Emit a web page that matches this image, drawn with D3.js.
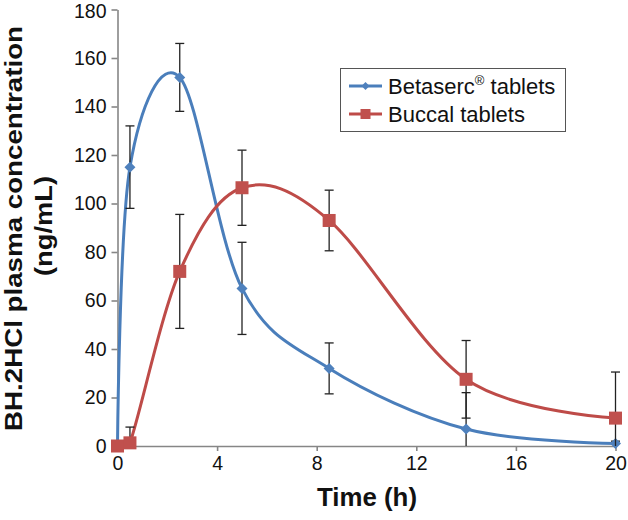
<!DOCTYPE html>
<html><head><meta charset="utf-8">
<script src="https://cdn.jsdelivr.net/npm/d3@7"></script>
<style>body{margin:0;background:#fff}svg{display:block;font-family:"Liberation Sans",Arial,sans-serif}</style>
</head><body><svg id="c" width="628" height="520"></svg>
<script>
const times = [0, 0.5, 2.5, 5, 8.5, 14, 20];
const betaserc = [0, 115, 152, 65, 32, 7, 1];
const betasercErr = [0, 17, 14, 19, 10.5, 15, 1];
const buccal = [0, 1.3, 72, 106.5, 93, 27.5, 11.5];
const buccalErr = [0, 6.5, 23.5, 15.5, 12.5, 16, 19];
const xTicks = [0, 4, 8, 12, 16, 20];
const yTicks = [0, 20, 40, 60, 80, 100, 120, 140, 160, 180];
const seriesNames = ["Betaserc", "Buccal tablets"];

const svg = d3.select("#c");
const x = d3.scaleLinear().domain([0, 20]).range([117.5, 615.5]);
const y = d3.scaleLinear().domain([0, 180]).range([446, 9.5]);
const axisColor = "#868686";

svg.append("defs").append("clipPath").attr("id", "plot")
  .append("rect").attr("x", 0).attr("y", 0).attr("width", 628).attr("height", y(0));

// axes
const gx = svg.append("g").attr("transform", `translate(0,${y(0)})`)
  .call(d3.axisBottom(x).tickValues(xTicks).tickSize(5).tickSizeOuter(0).tickPadding(5));
const gy = svg.append("g").attr("transform", `translate(${x(0)},0)`)
  .call(d3.axisLeft(y).tickValues(yTicks).tickSize(6).tickSizeOuter(0).tickPadding(5));
[gx, gy].forEach(g => {
  g.selectAll("path,line").attr("stroke", axisColor).attr("stroke-width", 1.6);
  g.selectAll("text").attr("font-size", 19.5).attr("fill", "#111")
    .attr("font-family", '"Liberation Sans",Arial,sans-serif');
});
gy.selectAll(".tick text").filter(d => d === 180).attr("dy", "0.4em");

const series = [
  {name: seriesNames[0], vals: betaserc, err: betasercErr, line: "#4A7EBB", fill: "#4F81BD", shape: "diamond"},
  {name: seriesNames[1], vals: buccal, err: buccalErr, line: "#BE4B48", fill: "#C0504D", shape: "square"}
];

const lineGen = d3.line().x(d => x(d[0])).y(d => y(d[1])).curve(d3.curveCardinal.tension(0));

function marker(g, shape, cx, cy, s, fill) {
  if (shape === "diamond") {
    g.append("path").attr("d", `M${cx},${cy - s}L${cx + s},${cy}L${cx},${cy + s}L${cx - s},${cy}Z`).attr("fill", fill);
  } else {
    g.append("rect").attr("x", cx - s).attr("y", cy - s).attr("width", 2 * s).attr("height", 2 * s).attr("fill", fill);
  }
}

series.forEach(s => {
  const pts = times.map((t, i) => [t, s.vals[i]]);
  const g = svg.append("g");
  g.append("path").attr("d", lineGen(pts)).attr("fill", "none").attr("stroke", s.line)
    .attr("stroke-width", 3).attr("clip-path", "url(#plot)");
  // error bars
  pts.forEach((p, i) => {
    const e = s.err[i];
    if (!e || p[1] === 0) return;
    const top = p[1] + e, bot = Math.max(0, p[1] - e);
    const cx = x(p[0]);
    g.append("line").attr("x1", cx).attr("x2", cx).attr("y1", y(top)).attr("y2", y(bot)).attr("stroke", "#222").attr("stroke-width", 1.3);
    g.append("line").attr("x1", cx - 4.5).attr("x2", cx + 4.5).attr("y1", y(top)).attr("y2", y(top)).attr("stroke", "#222").attr("stroke-width", 1.3);
    if (p[1] - e > 0)
      g.append("line").attr("x1", cx - 4.5).attr("x2", cx + 4.5).attr("y1", y(bot)).attr("y2", y(bot)).attr("stroke", "#222").attr("stroke-width", 1.3);
  });
  pts.forEach(p => marker(g, s.shape, x(p[0]), y(p[1]), s.shape === "diamond" ? 5.5 : 6.5, s.fill));
});

// legend
const lg = svg.append("g");
lg.append("rect").attr("x", 340.5).attr("y", 68.5).attr("width", 225).attr("height", 63)
  .attr("fill", "#fff").attr("stroke", "#555").attr("stroke-width", 1);
series.forEach((s, i) => {
  const yy = 86 + i * 28;
  lg.append("line").attr("x1", 349).attr("x2", 382).attr("y1", yy).attr("y2", yy).attr("stroke", s.line).attr("stroke-width", 3);
  marker(lg, s.shape, 365.5, yy, s.shape === "diamond" ? 4 : 5, s.fill);
  const t = lg.append("text").attr("x", 388).attr("y", yy + 8).attr("font-size", 22).attr("fill", "#111");
  if (i === 0) {
    t.append("tspan").text("Betaserc");
    t.append("tspan").attr("font-size", 13).attr("dy", -9).text("®");
    t.append("tspan").attr("dy", 9).text(" tablets");
  } else {
    t.text(s.name);
  }
});

// axis titles
svg.append("text").attr("x", 367).attr("y", 506).attr("text-anchor", "middle")
  .attr("font-size", 25).attr("font-weight", "bold").attr("fill", "#111")
  .attr("textLength", 100).attr("lengthAdjust", "spacingAndGlyphs").text("Time (h)");
const yt = svg.append("g").attr("transform", "rotate(-90)");
yt.append("text").attr("x", -228.5).attr("y", 22).attr("text-anchor", "middle")
  .attr("font-size", 23.5).attr("font-weight", "bold").attr("fill", "#111")
  .attr("textLength", 405).attr("lengthAdjust", "spacingAndGlyphs").text("BH.2HCl plasma concentration");
yt.append("text").attr("x", -226).attr("y", 52).attr("text-anchor", "middle")
  .attr("font-size", 24).attr("font-weight", "bold").attr("fill", "#111")
  .attr("textLength", 100).attr("lengthAdjust", "spacingAndGlyphs").text("(ng/mL)");
</script></body></html>
